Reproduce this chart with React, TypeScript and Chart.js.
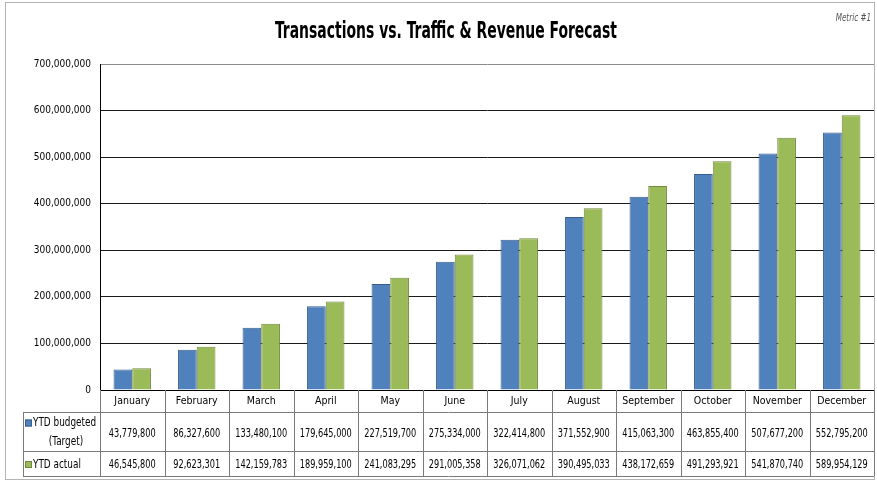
import React, { useEffect, useRef } from "react";
import { Chart, registerables } from "chart.js";

Chart.register(...registerables);

const months = ["January", "February", "March", "April", "May", "June", "July", "August", "September", "October", "November", "December"];
const budgeted = [43779800, 86327600, 133480100, 179645000, 227519700, 275334000, 322414800, 371552900, 415063300, 463855400, 507677200, 552795200];
const actual = [46545800, 92623301, 142159783, 189959100, 241083295, 291005358, 326071062, 390495033, 438172659, 491293921, 541870740, 589954129];
const seriesNames = ["YTD budgeted", "YTD actual"];
const targetNote = "(Target)";
const titleText = "Transactions vs. Traffic & Revenue Forecast";
const metricText = "Metric #1";

const FONT = "'DejaVu Sans Condensed', 'Liberation Sans Narrow', sans-serif";
const BLUE = "#4F81BD";
const GREEN = "#9BBB59";
const BLUE_B = "#385D8A";
const GREEN_B = "#71893F";

const fmt = (v: number) => v.toLocaleString("en-US");

function drawScaled(ctx: CanvasRenderingContext2D, text: string, x: number, y: number, sx: number, align: CanvasTextAlign) {
  ctx.save();
  ctx.translate(x, y);
  ctx.scale(sx, 1);
  ctx.textAlign = align;
  ctx.fillText(text, 0, 0);
  ctx.restore();
}

const tablePlugin = {
  id: "tablePlugin",
  afterDraw(chart: any) {
    const ctx = chart.ctx as CanvasRenderingContext2D;
    const area = chart.chartArea;
    const xs = chart.scales.x;
    ctx.save();
    ctx.strokeStyle = "#b4b4b4";
    ctx.lineWidth = 1;
    ctx.strokeRect(5.5, 2.5, 869, 477);

    ctx.fillStyle = "#000";
    ctx.textBaseline = "middle";
    ctx.font = `bold 23px ${FONT}`;
    const tw = ctx.measureText(titleText).width;
    drawScaled(ctx, titleText, 446, 32, 342 / tw, "center");

    ctx.fillStyle = "#555";
    ctx.font = `italic 10px ${FONT}`;
    drawScaled(ctx, metricText, 871, 18, 0.8, "right");

    const n = months.length;
    const colW = (area.right - area.left) / n;
    const yHead = area.bottom;
    const y1 = yHead + 22;
    const y2 = y1 + 39;
    const y3 = y2 + 25;
    const legL = 23;
    ctx.strokeStyle = "#7a7a7a";
    ctx.lineWidth = 1;
    ctx.beginPath();
    ctx.moveTo(legL, y1 + 0.5); ctx.lineTo(area.right, y1 + 0.5);
    ctx.moveTo(legL, y2 + 0.5); ctx.lineTo(area.right, y2 + 0.5);
    ctx.moveTo(legL, y3 + 0.5); ctx.lineTo(area.right, y3 + 0.5);
    ctx.moveTo(legL + 0.5, y1); ctx.lineTo(legL + 0.5, y3);
    for (let i = 0; i <= n; i++) {
      const x = Math.round(area.left + i * colW) + 0.5;
      ctx.moveTo(x, yHead); ctx.lineTo(x, y3);
    }
    ctx.stroke();

    ctx.fillStyle = "#000";
    ctx.font = `13px ${FONT}`;
    ctx.textBaseline = "middle";
    const sx = 0.7;
    for (let i = 0; i < n; i++) {
      const cx = xs.getPixelForValue(i);
      drawScaled(ctx, fmt(budgeted[i]), cx, (y1 + y2) / 2 + 2, sx, "center");
      drawScaled(ctx, fmt(actual[i]), cx, (y2 + y3) / 2 + 1, sx, "center");
    }
    const sw = 7;
    const drawSw = (y: number, fill: string, border: string) => {
      ctx.fillStyle = fill;
      ctx.fillRect(25, y - sw / 2, sw, sw);
      ctx.strokeStyle = border;
      ctx.strokeRect(25.5, y - sw / 2 + 0.5, sw - 1, sw - 1);
    };
    drawSw(y1 + 11, BLUE, BLUE_B);
    drawSw((y2 + y3) / 2 + 1, GREEN, GREEN_B);
    ctx.fillStyle = "#000";
    const lx = 0.76;
    drawScaled(ctx, seriesNames[0], 33, y1 + 11, lx, "left");
    drawScaled(ctx, targetNote, 66, y1 + 30, lx, "center");
    drawScaled(ctx, seriesNames[1], 33, (y2 + y3) / 2 + 1, lx, "left");
    ctx.restore();
  },
};

export default function App() {
  const ref = useRef<HTMLCanvasElement | null>(null);
  useEffect(() => {
    document.body.style.margin = "0";
    const chart = new Chart(ref.current!, {
      type: "bar",
      data: {
        labels: months,
        datasets: [
          { label: seriesNames[0] + " " + targetNote, data: budgeted, backgroundColor: BLUE, borderColor: BLUE_B, borderWidth: 1 },
          { label: seriesNames[1], data: actual, backgroundColor: GREEN, borderColor: GREEN_B, borderWidth: 1 },
        ],
      },
      options: {
        responsive: false,
        animation: false,
        layout: { padding: { left: 0, right: 3, top: 64, bottom: 70 } },
        datasets: { bar: { categoryPercentage: 0.58, barPercentage: 1.0 } },
        plugins: {
          legend: { display: false },
          tooltip: { enabled: false },
          title: { display: false },
        },
        scales: {
          x: {
            grid: { display: false, drawTicks: false },
            border: { display: true, color: "#000" },
            ticks: { color: "#000", font: { family: FONT, size: 10.5 }, padding: 5, maxRotation: 0, autoSkip: false },
            afterFit: (s: any) => { s.height = 22; },
          },
          y: {
            min: 0,
            max: 700000000,
            grid: {
              color: (c: any) => (c.tick && c.tick.value === 700000000 ? "#8a8a8a" : "#1a1a1a"),
              drawTicks: false,
              lineWidth: 1,
            },
            border: { display: true, color: "#000" },
            ticks: {
              stepSize: 100000000,
              color: "#000",
              padding: 9,
              font: { family: FONT, size: 10 },
              callback: (v: any) => fmt(Number(v)),
            },
            afterFit: (s: any) => { s.width = 100; },
          },
        },
      },
      plugins: [tablePlugin],
    });
    return () => chart.destroy();
  }, []);
  return (
    <div style={{ width: 877, height: 482 }}>
      <canvas ref={ref} width={877} height={482} style={{ display: "block", width: 877, height: 482 }} />
    </div>
  );
}
